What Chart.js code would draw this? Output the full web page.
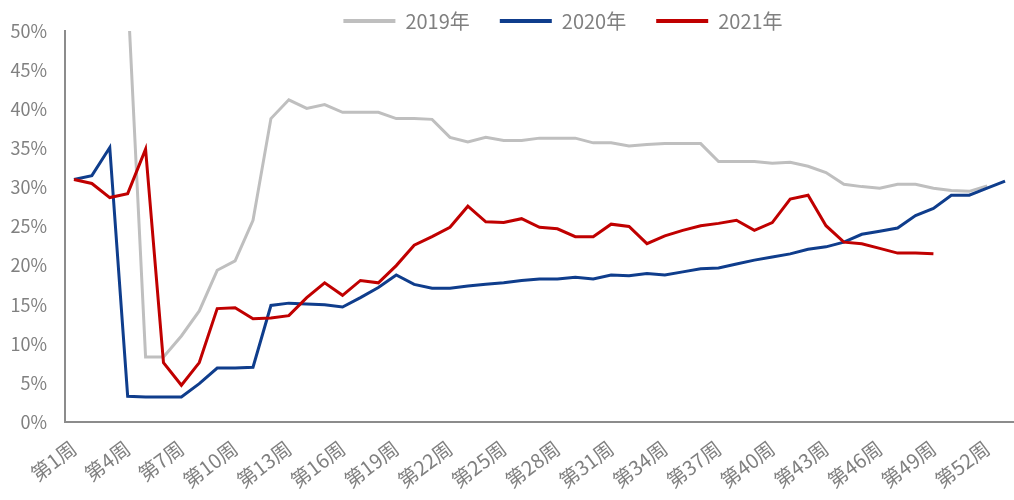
<!DOCTYPE html>
<html lang="zh-CN">
<head>
    <meta charset="UTF-8">
    <title>周度对比</title>
    <script src="https://cdn.jsdelivr.net/npm/chart.js"></script>
    <style>
        body { margin: 0; background: #fff; }
        #wrap { width: 1014px; height: 500px; }
    </style>
</head>
<body>
    <div id="wrap"><canvas id="chart"></canvas></div>
    <script>
        const weeks = [
            '第1周', '第2周', '第3周', '第4周', '第5周', '第6周', '第7周', '第8周', '第9周', '第10周',
            '第11周', '第12周', '第13周', '第14周', '第15周', '第16周', '第17周', '第18周', '第19周', '第20周',
            '第21周', '第22周', '第23周', '第24周', '第25周', '第26周', '第27周', '第28周', '第29周', '第30周',
            '第31周', '第32周', '第33周', '第34周', '第35周', '第36周', '第37周', '第38周', '第39周', '第40周',
            '第41周', '第42周', '第43周', '第44周', '第45周', '第46周', '第47周', '第48周', '第49周', '第50周',
            '第51周', '第52周', '第53周'
        ];
        // only every third week gets a label on the axis
        const tickLabels = ['第1周', '第4周', '第7周', '第10周', '第13周', '第16周', '第19周', '第22周', '第25周',
            '第28周', '第31周', '第34周', '第37周', '第40周', '第43周', '第46周', '第49周', '第52周'];

        // values in %
        const y2019 = [null, null, null, 55, 8.3, 8.3, 11.0, 14.2, 19.4, 20.6,
            25.8, 38.8, 41.2, 40.1, 40.6, 39.6, 39.6, 39.6, 38.8, 38.8,
            38.7, 36.4, 35.8, 36.4, 36.0, 36.0, 36.3, 36.3, 36.3, 35.7,
            35.7, 35.3, 35.5, 35.6, 35.6, 35.6, 33.3, 33.3, 33.3, 33.1,
            33.2, 32.7, 31.9, 30.4, 30.1, 29.9, 30.4, 30.4, 29.9, 29.6,
            29.5, 30.2, null];
        const y2020 = [31.0, 31.5, 35.1, 3.3, 3.2, 3.2, 3.2, 4.9, 6.9, 6.9,
            7.0, 14.9, 15.2, 15.1, 15.0, 14.7, 15.9, 17.2, 18.8, 17.6,
            17.1, 17.1, 17.4, 17.6, 17.8, 18.1, 18.3, 18.3, 18.5, 18.3,
            18.8, 18.7, 19.0, 18.8, 19.2, 19.6, 19.7, 20.2, 20.7, 21.1,
            21.5, 22.1, 22.4, 23.0, 24.0, 24.4, 24.8, 26.4, 27.3, 29.0,
            29.0, 29.9, 30.8];
        const y2021 = [31.0, 30.5, 28.7, 29.2, 34.9, 7.6, 4.7, 7.6, 14.5, 14.6,
            13.2, 13.3, 13.6, 15.9, 17.8, 16.2, 18.1, 17.8, 20.0, 22.6,
            23.7, 24.9, 27.6, 25.6, 25.5, 26.0, 24.9, 24.7, 23.7, 23.7,
            25.3, 25.0, 22.8, 23.8, 24.5, 25.1, 25.4, 25.8, 24.5, 25.5,
            28.5, 29.0, 25.1, 23.0, 22.8, 22.2, 21.6, 21.6, 21.5, null,
            null, null, null];

        const FONT = "'Noto Sans CJK SC', 'Noto Sans', sans-serif";
        const GREY_TEXT = '#808080';

        // nudge the legend to where the original sits (legend clips to its own box)
        const legendShift = {
            id: 'legendShift',
            afterLayout(chart) {
                const l = chart.legend;
                l.top -= 19;
                l.bottom += 4;
                l.left += 51; l.right += 51;
            }
        };

        const ctx = document.getElementById('chart').getContext('2d');
        new Chart(ctx, {
            type: 'line',
            data: {
                labels: weeks,
                datasets: [
                    { label: '2019年', data: y2019, borderColor: '#bfbfbf', backgroundColor: '#bfbfbf', order: 3 },
                    { label: '2020年', data: y2020, borderColor: '#0f3d8c', backgroundColor: '#0f3d8c', order: 2 },
                    { label: '2021年', data: y2021, borderColor: '#c00000', backgroundColor: '#c00000', order: 1 }
                ]
            },
            options: {
                responsive: true,
                maintainAspectRatio: false,
                animation: false,
                layout: { padding: { left: 10, right: 0, bottom: 0 } },
                elements: {
                    line: { borderWidth: 3, tension: 0 },
                    point: { radius: 0, borderWidth: 4 }
                },
                plugins: {
                    tooltip: { enabled: false },
                    legend: {
                        position: 'top',
                        maxHeight: 31,
                        labels: {
                            usePointStyle: true,
                            pointStyle: 'line',
                            pointStyleWidth: 52,
                            padding: 30,
                            color: GREY_TEXT,
                            font: { family: FONT, size: 20 },
                            sort: (a, b) => a.datasetIndex - b.datasetIndex
                        }
                    }
                },
                scales: {
                    x: {
                        offset: true,
                        grid: { display: false, drawTicks: false },
                        border: { display: true, color: '#8c8c8c', width: 2 },
                        afterFit: s => { s.paddingLeft = 0; s.paddingRight = 0; s.height = 78; },
                        ticks: {
                            autoSkip: false,
                            minRotation: 37,
                            maxRotation: 37,
                            padding: 14,
                            color: GREY_TEXT,
                            font: { family: FONT, size: 20 },
                            callback: (v, i) => tickLabels.includes(weeks[i]) ? weeks[i] : ''
                        }
                    },
                    y: {
                        min: 0,
                        max: 50,
                        grid: { display: false, drawTicks: false },
                        border: { display: true, color: '#8c8c8c', width: 2 },
                        afterFit: s => { s.width = 55; },
                        ticks: {
                            stepSize: 5,
                            padding: 18,
                            color: GREY_TEXT,
                            font: { family: FONT, size: 18 },
                            callback: v => v + '%'
                        }
                    }
                }
            },
            plugins: [legendShift]
        });
    </script>
</body>
</html>
